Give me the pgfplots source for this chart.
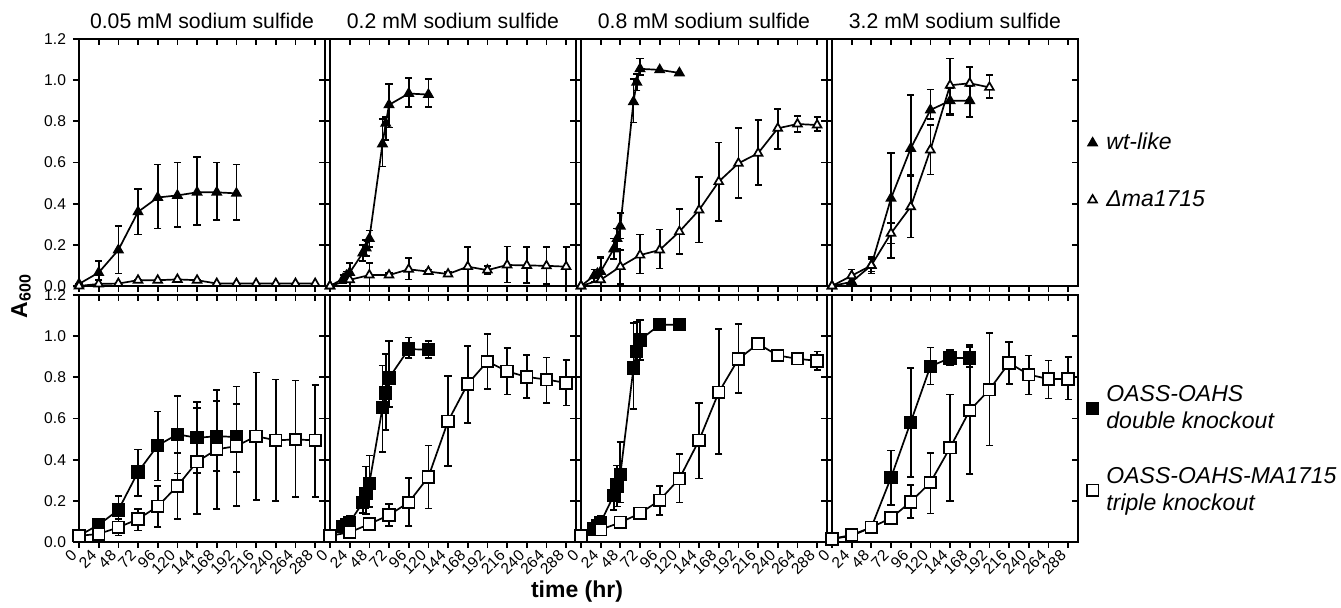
\documentclass[border=0pt]{standalone}
\usepackage{pgfplots}
\pgfplotsset{compat=1.18}
\usepackage{pgfplotstable}
\usepgfplotslibrary{groupplots}
\usepackage{fontspec}
\setmainfont{Liberation Sans}

% columns: time, A600, error up, error down
\pgfplotstableread{
t a ep em
0 0.01 0 0
24 0.065 0.055 0.035
48 0.175 0.115 0.115
72 0.36 0.11 0.11
96 0.43 0.16 0.15
120 0.44 0.16 0.155
144 0.455 0.17 0.16
168 0.455 0.145 0.135
192 0.45 0.14 0.13
}\wtA
\pgfplotstableread{
t a ep em
0 0.0 0 0
24 0.01 0 0
48 0.012 0 0
72 0.028 0 0
96 0.028 0 0
120 0.032 0 0
144 0.028 0 0
168 0.012 0 0
192 0.012 0 0
216 0.012 0 0
240 0.012 0 0
264 0.012 0 0
288 0.012 0 0
}\dmA
\pgfplotstableread{
t a ep em
0 0.0 0 0
16 0.035 0.02 0.02
20 0.05 0.02 0.02
24 0.065 0.045 0.03
40 0.16 0.04 0.04
44 0.185 0.04 0.04
48 0.23 0.04 0.04
64 0.69 0.12 0.11
68 0.79 0.03 0.08
72 0.88 0.1 0.11
96 0.935 0.075 0.065
120 0.93 0.075 0.06
}\wtB
\pgfplotstableread{
t a ep em
0 0 0 0
24 0.03 0.08 0.03
48 0.053 0.06 0.05
72 0.053 0.01 0.01
96 0.081 0.055 0.05
120 0.07 0.01 0.01
144 0.058 0.01 0.01
168 0.094 0.095 0.094
192 0.077 0.02 0.02
216 0.102 0.09 0.085
240 0.10 0.09 0.085
264 0.098 0.09 0.09
288 0.094 0.095 0.094
}\dmB
\pgfplotstableread{
t a ep em
0 0 0 0
16 0.05 0.03 0.03
20 0.06 0.02 0.02
24 0.07 0.065 0.05
40 0.18 0.05 0.05
44 0.23 0.05 0.05
48 0.29 0.065 0.06
64 0.895 0.11 0.10
68 0.99 0.04 0.04
72 1.055 0.05 0.03
96 1.05 0 0
120 1.035 0 0
}\wtC
\pgfplotstableread{
t a ep em
0 0 0 0
24 0.03 0.11 0.03
48 0.094 0.08 0.085
72 0.15 0.1 0.09
96 0.175 0.1 0.09
120 0.264 0.11 0.11
144 0.369 0.16 0.157
168 0.507 0.19 0.19
192 0.596 0.17 0.17
216 0.645 0.16 0.155
240 0.766 0.095 0.1
264 0.787 0.04 0.04
288 0.782 0.04 0.03
}\dmC
\pgfplotstableread{
t a ep em
0 0 0 0
24 0.02 0.02 0.02
48 0.10 0.04 0.04
72 0.426 0.22 0.29
96 0.668 0.26 0.13
120 0.855 0.1 0.045
144 0.90 0.06 0.07
168 0.90 0.07 0.08
}\wtD
\pgfplotstableread{
t a ep em
0 0 0 0
24 0.05 0.03 0.03
48 0.10 0.03 0.03
72 0.256 0.05 0.05
96 0.385 0.15 0.15
120 0.661 0.12 0.12
144 0.975 0.13 0.14
168 0.985 0.08 0.08
192 0.965 0.06 0.05
}\dmD
\pgfplotstableread{
t a ep em
0 0.03 0 0
24 0.084 0.01 0.01
48 0.155 0.07 0.06
72 0.34 0.11 0.115
96 0.469 0.165 0.17
120 0.523 0.185 0.19
144 0.506 0.175 0.17
168 0.514 0.17 0.17
192 0.51 0.16 0.17
}\dkA
\pgfplotstableread{
t a ep em
0 0.03 0 0
24 0.039 0.01 0.01
48 0.071 0.04 0.04
72 0.111 0.05 0.055
96 0.173 0.1 0.1
120 0.272 0.16 0.16
144 0.39 0.26 0.255
168 0.45 0.29 0.29
192 0.466 0.29 0.29
216 0.514 0.31 0.31
240 0.494 0.295 0.295
264 0.498 0.287 0.28
288 0.494 0.27 0.275
}\tkA
\pgfplotstableread{
t a ep em
0 0.03 0 0
16 0.076 0.02 0.02
20 0.085 0.02 0.02
24 0.095 0.03 0.03
40 0.192 0.05 0.05
44 0.237 0.13 0.1
48 0.285 0.135 0.115
64 0.652 0.205 0.215
68 0.724 0.19 0.18
72 0.797 0.18 0.14
96 0.937 0.056 0.043
120 0.934 0.043 0.04
}\dkB
\pgfplotstableread{
t a ep em
0 0.03 0 0
24 0.047 0.02 0.02
48 0.087 0.02 0.02
72 0.131 0.053 0.055
96 0.192 0.12 0.116
120 0.316 0.153 0.153
144 0.587 0.218 0.218
168 0.768 0.185 0.19
192 0.877 0.134 0.133
216 0.829 0.113 0.113
240 0.802 0.108 0.102
264 0.789 0.108 0.113
288 0.773 0.112 0.11
}\tkB
\pgfplotstableread{
t a ep em
0 0.03 0 0
16 0.063 0.02 0.02
20 0.079 0.02 0.02
24 0.095 0.03 0.03
40 0.227 0.08 0.07
44 0.272 0.1 0.1
48 0.329 0.156 0.137
64 0.845 0.218 0.2
68 0.926 0.144 0.056
72 0.982 0.098 0.097
96 1.055 0 0
120 1.055 0 0
}\dkC
\pgfplotstableread{
t a ep em
0 0.03 0 0
24 0.06 0.015 0.015
48 0.095 0.015 0.015
72 0.139 0.015 0.015
96 0.203 0.069 0.072
120 0.308 0.118 0.116
144 0.494 0.182 0.186
168 0.727 0.307 0.301
192 0.889 0.169 0.165
216 0.963 0.02 0.02
240 0.906 0.02 0.02
264 0.89 0.015 0.015
288 0.88 0.046 0.043
}\tkC
\pgfplotstableread{
t a ep em
0 0.015 0 0
24 0.03 0 0
48 0.071 0.01 0.01
72 0.313 0.132 0.133
96 0.582 0.263 0.266
120 0.853 0.092 0.088
144 0.894 0.04 0.035
168 0.894 0.064 0.044
}\dkD
\pgfplotstableread{
t a ep em
0 0.015 0 0
24 0.034 0 0
48 0.071 0.01 0.01
72 0.116 0.02 0.02
96 0.195 0.081 0.08
120 0.289 0.145 0.15
144 0.458 0.258 0.258
168 0.639 0.31 0.31
192 0.74 0.275 0.271
216 0.87 0.101 0.102
240 0.813 0.093 0.097
264 0.792 0.09 0.095
288 0.792 0.107 0.1
}\tkD

\pgfplotsset{
  ebars/.style={error bars/.cd, y dir=both, y explicit,
    error bar style={line width=0.85pt},
    error mark options={rotate=90, mark size=1.8pt, line width=0.85pt}},
  filledtri/.style={black, line width=0.85pt, mark=triangle*, mark size=2.5pt,
    mark options={solid, fill=black}, ebars},
  opentri/.style={black, line width=0.85pt, mark=triangle*, mark size=2.5pt,
    mark options={solid, fill=white}, ebars},
  filledsq/.style={black, line width=0.85pt, mark=square*, mark size=2.9pt,
    mark options={solid, fill=black}, ebars},
  opensq/.style={black, line width=0.85pt, mark=square*, mark size=2.9pt,
    mark options={solid, fill=white}, ebars},
  markonly/.style={legend image code/.code={\draw[##1, only marks] plot coordinates {(0pt,0pt)}; \path (-3pt,0pt) (4.5pt,0pt);}},
  % one-entry legend in a hidden axis, for the top-row key
  keyaxis/.style={hide axis, scale only axis, width=2pt, height=2pt,
    xmin=0, xmax=1, ymin=0, ymax=1, anchor=west, markonly,
    legend style={at={(0,0.5)}, anchor=west, draw=none, fill=none, inner sep=0pt,
      font=\itshape\fontsize{11.5}{13.5}\selectfont, cells={anchor=west, inner sep=1pt}}},
}
% ticks pointing down on top and left on the right side
\newcommand\innerticks{%
  \pgfplotsinvokeforeach{24,48,72,96,120,144,168,192,216,240,264,288}{\draw[line width=0.85pt] (axis cs:##1,1.2) -- ++(0pt,-3pt);}%
  \pgfplotsinvokeforeach{0.2,0.4,0.6,0.8,1.0}{\draw[line width=0.85pt] (axis cs:300,##1) -- ++(-3pt,0pt);}}

\begin{document}
\begin{tikzpicture}
\begin{groupplot}[
  group style={group size=4 by 2, horizontal sep=2.5pt, vertical sep=4.5pt,
    xticklabels at=edge bottom, yticklabels at=edge left},
  scale only axis, width=123pt, height=123.5pt,
  xmin=0, xmax=300, ymin=0, ymax=1.2,
  xtick={0,24,...,288}, ytick={0,0.2,0.4,0.6,0.8,1.0,1.2},
  tick align=outside, tick pos=left, major tick length=3pt,
  every tick/.style={black, line width=0.85pt},
  axis line style={line width=1.1pt},
  clip=false,
  table/x=t, table/y=a, table/y error plus=ep, table/y error minus=em,
  /pgf/number format/assume math mode=true,
  tick label style={font=\fontsize{7.8}{9}\selectfont},
  yticklabel style={/pgf/number format/.cd, fixed, fixed zerofill, precision=1},
  x tick label style={rotate=45, anchor=east},
  title style={font=\fontsize{10.6}{12}\selectfont, at={(0.5,1)}, anchor=base, yshift=-1pt},
]
\nextgroupplot[title={0.05 mM sodium sulfide}]
\addplot[filledtri] table {\wtA};
\addplot[opentri] table {\dmA};
\innerticks
\nextgroupplot[title={0.2 mM sodium sulfide}]
\addplot[filledtri] table {\wtB};
\addplot[opentri] table {\dmB};
\innerticks
\nextgroupplot[title={0.8 mM sodium sulfide}]
\addplot[filledtri] table {\wtC};
\addplot[opentri] table {\dmC};
\innerticks
\nextgroupplot[title={3.2 mM sodium sulfide}]
\addplot[filledtri] table {\wtD};
\addplot[opentri] table {\dmD};
\innerticks
\nextgroupplot
\addplot[filledsq] table {\dkA};
\addplot[opensq] table {\tkA};
\innerticks
\nextgroupplot
\addplot[filledsq] table {\dkB};
\addplot[opensq] table {\tkB};
\innerticks
\nextgroupplot
\addplot[filledsq] table {\dkC};
\addplot[opensq] table {\tkC};
\innerticks
\nextgroupplot[markonly,
  legend style={at={(1.03,0.375)}, anchor=west, draw=none, fill=none, inner sep=0pt,
    row sep=14pt, font=\itshape\fontsize{11.5}{13.5}\selectfont,
    cells={anchor=west, align=left, inner sep=1pt}}]
\addplot[filledsq] table {\dkD};
\addlegendentry{OASS-OAHS\\double knockout}
\addplot[opensq] table {\tkD};
\addlegendentry{OASS-OAHS-MA1715\\triple knockout}
\innerticks
\end{groupplot}
\coordinate (k1) at ([xshift=3.7pt, yshift=9.75pt]group c4r1.east);
\coordinate (k2) at ([xshift=3.7pt, yshift=-18.75pt]group c4r1.east);
\begin{axis}[keyaxis, at={(k1)}]
\addlegendimage{black, line width=0.85pt, mark=triangle*, mark size=2.5pt, mark options={solid, fill=black}}
\addlegendentry{wt-like}
\end{axis}
\begin{axis}[keyaxis, at={(k2)}]
\addlegendimage{black, line width=0.85pt, mark=triangle*, mark size=2.5pt, mark options={solid, fill=white}}
\addlegendentry{Δma1715}
\end{axis}
\coordinate (O) at ([xshift=-39.5pt, yshift=19.5pt]group c1r1.north west);
\begin{scope}[shift={(O)}, x=0.5pt, y=-0.5pt]
\node[rotate=90, font=\bfseries\fontsize{11.5}{13.5}\selectfont] at (21,296) {A\textsubscript{600}};
\node[font=\bfseries\fontsize{11.5}{13.5}\selectfont] at (577,592) {time (hr)};
\pgfresetboundingbox
\path (0,0) rectangle (1341,608);
\end{scope}
\end{tikzpicture}
\end{document}
